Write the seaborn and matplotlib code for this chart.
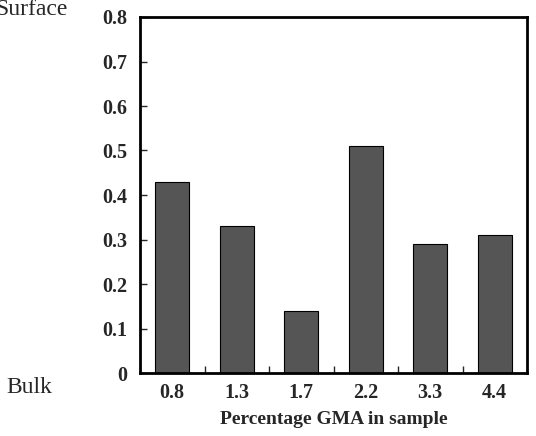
import pandas as pd
import seaborn as sns
import matplotlib.pyplot as plt
from matplotlib.ticker import FixedLocator

gma = ['0.8', '1.3', '1.7', '2.2', '3.3', '4.4']
ratio = [0.43, 0.33, 0.14, 0.51, 0.29, 0.31]
yticks = [0, 0.1, 0.2, 0.3, 0.4, 0.5, 0.6, 0.7, 0.8]
ytick_labels = ['0', '0.1', '0.2', '0.3', '0.4', '0.5', '0.6', '0.7', '0.8']

df = pd.DataFrame({'gma': gma, 'ratio': ratio})

sns.set_style('ticks')
plt.rcParams['font.family'] = ['Liberation Serif', 'DejaVu Serif']

fig = plt.figure(figsize=(5.36, 4.36), dpi=100)
ax = fig.add_axes([140 / 536, 1 - 373 / 436, 387 / 536, 356 / 436])

sns.barplot(data=df, x='gma', y='ratio', ax=ax, color='#555555', saturation=1,
            width=0.52, edgecolor='black', linewidth=0.8)

ax.set_xlim(-0.5, 5.5)
ax.set_ylim(0, 0.8)
ax.set_yticks(yticks)
ax.set_yticklabels(ytick_labels, fontsize=14.5, fontweight='bold')
for lbl in ax.get_xticklabels():
    lbl.set_fontsize(14.5)
    lbl.set_fontweight('bold')

ax.xaxis.set_minor_locator(FixedLocator([0.5, 1.5, 2.5, 3.5, 4.5]))
ax.tick_params(axis='x', which='major', length=0, pad=7)
ax.tick_params(axis='x', which='minor', direction='in', length=5, width=1)
ax.tick_params(axis='y', direction='in', length=5, width=1, pad=9)

for s in ax.spines.values():
    s.set_linewidth(2)
    s.set_color('black')

ax.set_xlabel('Percentage GMA in sample', fontsize=14, fontweight='bold', labelpad=6)
ax.set_ylabel('')

fig.text(68 / 536, 1 - 15 / 436, 'Surface', fontsize=17, ha='right', va='baseline')
fig.text(6 / 536, 1 - 393 / 436, 'Bulk', fontsize=17, ha='left', va='baseline')

fig.savefig('out.png', dpi=100)
